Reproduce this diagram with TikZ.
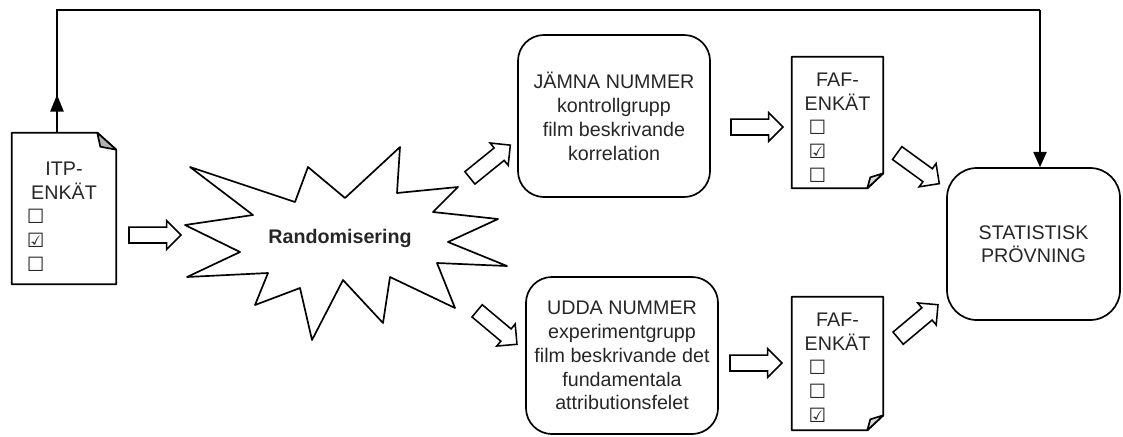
\documentclass[tikz,border=0pt]{standalone}
\usepackage{fontspec}
\setmainfont{Liberation Sans}
\newfontfamily\cbfont{DejaVu Sans}
\usetikzlibrary{arrows.meta, calc, shapes.arrows}

\newcommand{\cbline}[2]{\makebox[#1][l]{\cbfont\fontsize{14}{14}\selectfont #2}}
\newcommand{\earNE}[1]{%
    \draw[docline] (#1.south west) -- (#1.north west) -- ($(#1.north east)+(-19,0)$) -- ($(#1.north east)+(0,17)$) -- (#1.south east) -- cycle;
    \draw[docline, fill=black!30] ($(#1.north east)+(-19,0)$) -- ($(#1.north east)+(-16,14)$) -- ($(#1.north east)+(0,17)$) -- cycle;}
\newcommand{\earSE}[1]{%
    \draw[docline] (#1.north west) -- (#1.north east) -- ($(#1.south east)+(0,-15)$) -- ($(#1.south east)+(-16,0)$) -- (#1.south west) -- cycle;
    \draw[docline, fill=black!15] ($(#1.south east)+(0,-15)$) -- ($(#1.south east)+(-13,-11)$) -- ($(#1.south east)+(-16,0)$) -- cycle;}

\begin{document}
\begin{tikzpicture}[
        x=0.025cm, y=-0.025cm,
        every node/.style={font=\fontsize{14}{17}\selectfont, text=black!85},
        doc/.style={inner sep=0pt, align=center},
        roundbox/.style={draw, line width=1.2pt, rounded corners=0.65cm, align=center, inner sep=0pt},
        blockarrow/.style={draw, line width=1.1pt, single arrow, single arrow head extend=0.16cm, single arrow tip angle=90, minimum height=1.3cm, inner sep=0.18cm},
        docline/.style={line width=1.2pt, line join=round},
        flow/.style={line width=1.2pt}
    ]
    \useasboundingbox (0,0) rectangle (1123,436);

    % documents
    \node[doc, minimum width=2.6cm, minimum height=3.775cm] (itp) at (64,208.5)
        {\rule{0pt}{21pt}ITP-\\ENKÄT\\\cbline{1.85cm}{☐}\\\cbline{1.85cm}{☑}\\\cbline{1.85cm}{☐}};
    \earNE{itp}
    \node[doc, minimum width=2.275cm, minimum height=3.275cm] (fafa) at (837.5,122.5)
        {\rule{0pt}{17pt}FAF-\\ENKÄT\\\cbline{1.45cm}{☐}\\\cbline{1.45cm}{☑}\\\cbline{1.45cm}{☐}};
    \earSE{fafa}
    \node[doc, minimum width=2.275cm, minimum height=3.325cm] (fafb) at (837.5,363.5)
        {\rule{0pt}{16pt}FAF-\\ENKÄT\\\cbline{1.45cm}{☐}\\\cbline{1.45cm}{☐}\\\cbline{1.45cm}{☑}};
    \earSE{fafb}

    % randomisering
    \draw[docline] (190,167) -- (295,202) -- (308,167) -- (345,198) -- (400,147) -- (397,193)
        -- (458,187) -- (433,212) -- (498,219) -- (448,242) -- (507,266) -- (437,263)
        -- (455,308) -- (390,277) -- (383,323) -- (343,280) -- (312,340) -- (300,288)
        -- (255,305) -- (268,273) -- (187,277) -- (240,252) -- (185,225) -- (253,215) -- cycle;
    \node (rand) at (340,238) {\textbf{Randomisering}};

    % groups
    \node[roundbox, minimum width=4.8cm, minimum height=4.05cm] (jamna) at (614,116)
        {JÄMNA NUMMER\\kontrollgrupp\\film beskrivande\\korrelation};
    \node[roundbox, minimum width=4.8cm, minimum height=3.925cm] (udda) at (622,355.5)
        {UDDA NUMMER\\experimentgrupp\\film beskrivande det\\fundamentala\\attributionsfelet};
    \node[roundbox, rounded corners=0.75cm, minimum width=4.325cm, minimum height=3.8cm,
        font=\fontsize{14}{16}\selectfont] (stat) at (1033.5,244) {STATISTISK\\PRÖVNING};

    % block arrows
    \node[blockarrow] (a1) at (151,235) {};
    \node[blockarrow, rotate=39] (a2) at (487,164) {};
    \node[blockarrow, rotate=-40] (a3) at (494,325) {};
    \node[blockarrow] (a4) at (753,127) {};
    \node[blockarrow] (a5) at (752,363) {};
    \node[blockarrow, rotate=-36] (a6) at (915,166) {};
    \node[blockarrow, rotate=40] (a7) at (915,324) {};

    % top line
    \coordinate (tl) at (57,10);
    \coordinate (tr) at (1040,10);
    \draw[flow, -{Triangle[length=0.42cm, width=0.33cm]}] (itp.north -| tl) -- ++(0,-38);
    \draw[flow] (itp.north -| tl) -- (tl) -- (tr);
    \draw[flow, -{Triangle[length=0.38cm, width=0.33cm]}] (tr) -- (stat.north -| tr);
\end{tikzpicture}
\end{document}
